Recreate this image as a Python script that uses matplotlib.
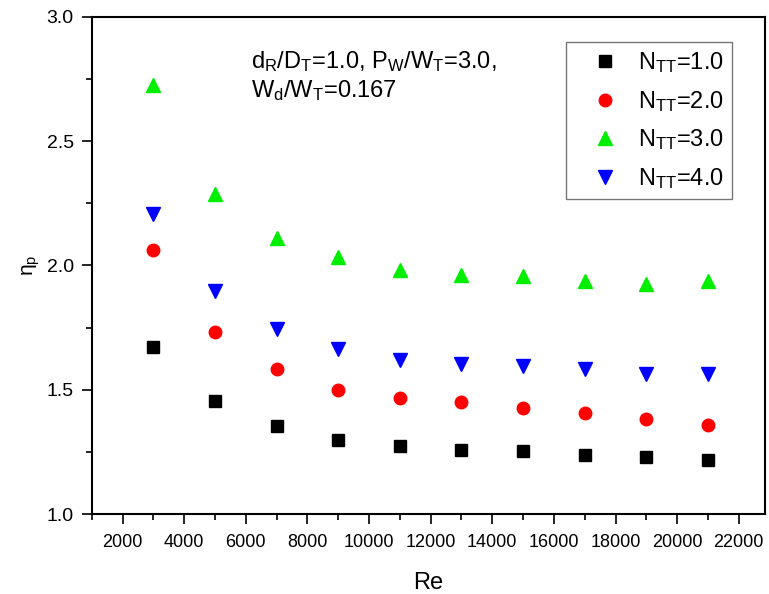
import matplotlib

matplotlib.use('Agg')
import matplotlib.pyplot as plt
from matplotlib.ticker import MultipleLocator

plt.rcParams['font.family'] = ['Liberation Sans', 'DejaVu Sans']
plt.rcParams['mathtext.fontset'] = 'custom'
plt.rcParams['mathtext.rm'] = 'Liberation Sans'
plt.rcParams['mathtext.it'] = 'Liberation Sans'
plt.rcParams['mathtext.default'] = 'regular'

# Reynolds numbers on the x axis
re_values = [3000, 5000, 7000, 9000, 11000, 13000, 15000, 17000, 19000, 21000]

# eta_p for each N_TT
eta_ntt1 = [1.673, 1.457, 1.356, 1.300, 1.273, 1.260, 1.253, 1.240, 1.231, 1.217]
eta_ntt2 = [2.063, 1.733, 1.584, 1.500, 1.467, 1.452, 1.429, 1.408, 1.383, 1.359]
eta_ntt3 = [2.726, 2.289, 2.111, 2.036, 1.983, 1.960, 1.956, 1.937, 1.924, 1.937]
eta_ntt4 = [2.208, 1.897, 1.743, 1.665, 1.620, 1.603, 1.596, 1.585, 1.563, 1.563]

series_labels = ['$N_{TT}$=1.0', '$N_{TT}$=2.0', '$N_{TT}$=3.0', '$N_{TT}$=4.0']
x_ticks = list(range(2000, 22001, 2000))
y_ticks = [1.0, 1.5, 2.0, 2.5, 3.0]

fig = plt.figure(figsize=(7.69, 5.94), dpi=100)
W, H = 769, 594
ax = fig.add_axes([91.7 / W, 1 - 514.3 / H, (765 - 91.7) / W, (514.3 - 16.7) / H])

ax.plot(re_values, eta_ntt1, 's', color='black', markersize=8, label=series_labels[0])
ax.plot(re_values, eta_ntt2, 'o', color='#ff0000', markersize=9, label=series_labels[1])
ax.plot(re_values, eta_ntt3, '^', color='#00ee00', markersize=10, label=series_labels[2])
ax.plot(re_values, eta_ntt4, 'v', color='#0000ff', markersize=10, label=series_labels[3])

ax.set_xlim(1000, 22850)
ax.set_ylim(1.0, 3.0)
ax.set_xticks(x_ticks)
ax.set_yticks(y_ticks)
ax.set_yticklabels(['%.1f' % v for v in y_ticks])
ax.xaxis.set_minor_locator(MultipleLocator(1000))
ax.yaxis.set_minor_locator(MultipleLocator(0.25))

for side in ['left', 'bottom', 'top', 'right']:
    ax.spines[side].set_linewidth(1.5)
ax.tick_params(which='major', direction='out', length=7, width=1.2, top=False, right=False)
ax.tick_params(which='minor', direction='out', length=4, width=1.2, top=False, right=False)
ax.tick_params(axis='x', labelsize=13, pad=7)
ax.tick_params(axis='y', labelsize=14, pad=6)

ax.set_xlabel('Re', fontsize=17, labelpad=15)
ax.set_ylabel('η$_p$', fontsize=15, labelpad=3)

ax.text(251 / W, 1 - 68 / H, '$d_R$/$D_T$=1.0, $P_W$/$W_T$=3.0,', transform=fig.transFigure,
        fontsize=17, ha='left', va='baseline')
ax.text(251 / W, 1 - 97 / H, '$W_d$/$W_T$=0.167', transform=fig.transFigure,
        fontsize=17, ha='left', va='baseline')

leg = ax.legend(loc='upper left', bbox_to_anchor=(566 / W, 1 - 42 / H), bbox_transform=fig.transFigure,
                fontsize=17, frameon=True, fancybox=False, handlelength=2.6, handletextpad=0.1,
                labelspacing=0.58, borderpad=0.35, borderaxespad=0, numpoints=1)
leg.get_frame().set_edgecolor('#555555')
leg.get_frame().set_linewidth(1.0)

fig.savefig('out.png', dpi=100)
